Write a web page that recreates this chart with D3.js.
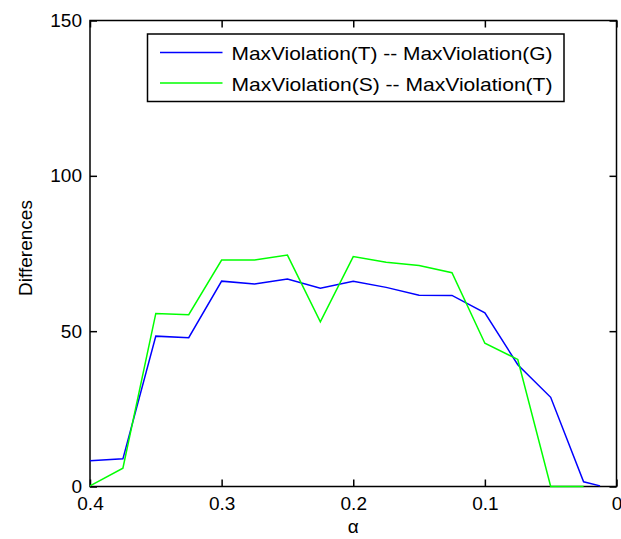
<!DOCTYPE html>
<meta charset="utf-8">
<script src="https://d3js.org/d3.v7.min.js"></script>
<style>
  body { margin: 0; background: #fff; }
  text { font-family: Arial, 'Liberation Sans', sans-serif; fill: #000; }
  .axis path, .axis line { stroke: #000; stroke-width: 1.5; }
  .axis text { font-size: 19px; }
</style>
<div id="chart"></div>
<script>
// alpha values along the x axis (axis runs from 0.4 down to 0)
var alphas = [0.4, 0.375, 0.35, 0.325, 0.3, 0.275, 0.25, 0.225, 0.2, 0.175, 0.15, 0.125, 0.1, 0.075, 0.05, 0.025, 0.0125];
// MaxViolation(T) -- MaxViolation(G)
var diffTG = [8.3, 8.9, 48.4, 47.9, 66.1, 65.2, 66.8, 63.8, 66.1, 64.1, 61.6, 61.5, 55.9, 39.2, 28.7, 1.5, 0.2];
// MaxViolation(S) -- MaxViolation(T)
var diffST = [0.2, 5.9, 55.7, 55.3, 72.9, 72.9, 74.5, 53.0, 74.0, 72.2, 71.1, 68.8, 46.1, 40.9, 0, 0, null];
var seriesNames = ["MaxViolation(T) -- MaxViolation(G)", "MaxViolation(S) -- MaxViolation(T)"];
var seriesColors = ["#0000ff", "#00ff00"];
var xTicks = [0.4, 0.3, 0.2, 0.1, 0];
var yTicks = [0, 50, 100, 150];

var W = 621, H = 539;
var margin = {top: 20.5, right: 4.5, bottom: 52.5, left: 90};
var width = W - margin.left - margin.right,
    height = H - margin.top - margin.bottom;

var svg = d3.select("#chart").append("svg")
    .attr("width", W).attr("height", H)
  .append("g")
    .attr("transform", "translate(" + margin.left + "," + margin.top + ")");

var x = d3.scaleLinear().domain([0.4, 0]).range([0, width]);
var y = d3.scaleLinear().domain([0, 150]).range([height, 0]);

var fmt = function(d) { return d === 0 ? "0" : d3.format(".1f")(d); };

// axes with inward ticks on all four sides
svg.append("g").attr("class", "axis")
  .attr("transform", "translate(0," + height + ")")
  .call(d3.axisBottom(x).tickValues(xTicks).tickFormat(fmt).tickSizeInner(-7).tickSizeOuter(0).tickPadding(10));
svg.append("g").attr("class", "axis")
  .call(d3.axisTop(x).tickValues(xTicks).tickFormat("").tickSizeInner(-7).tickSizeOuter(0));
svg.append("g").attr("class", "axis")
  .call(d3.axisLeft(y).tickValues(yTicks).tickSizeInner(-7).tickSizeOuter(0).tickPadding(8));
svg.append("g").attr("class", "axis")
  .attr("transform", "translate(" + width + ",0)")
  .call(d3.axisRight(y).tickValues(yTicks).tickFormat("").tickSizeInner(-7).tickSizeOuter(0));

svg.selectAll(".axis .domain").remove();
svg.append("rect")
  .attr("width", width).attr("height", height)
  .attr("fill", "none").attr("stroke", "#000").attr("stroke-width", 1.5);

// lines
var series = [diffTG, diffST];
series.forEach(function(vals, i) {
  var line = d3.line()
    .defined(function(d) { return d != null; })
    .x(function(d, j) { return x(alphas[j]); })
    .y(function(d) { return y(d); });
  svg.append("path")
    .datum(vals)
    .attr("fill", "none")
    .attr("stroke", seriesColors[i])
    .attr("stroke-width", 1.5)
    .attr("d", line);
});

// axis labels
svg.append("text")
  .attr("transform", "translate(" + (31.5 - margin.left) + "," + (248 - margin.top) + ") rotate(-90)")
  .attr("text-anchor", "middle")
  .style("font-size", "19px")
  .text("Differences");
svg.append("text")
  .attr("x", width / 2).attr("y", 533 - margin.top)
  .attr("text-anchor", "middle")
  .style("font-size", "19px")
  .text("α");

// legend
var leg = svg.append("g").attr("transform", "translate(" + (147.5 - margin.left) + "," + (34 - margin.top) + ")");
leg.append("rect")
  .attr("width", 416.5).attr("height", 67.5)
  .attr("fill", "#fff").attr("stroke", "#000").attr("stroke-width", 1.5);
seriesNames.forEach(function(name, i) {
  var ly = 18.5 + i * 30.5;
  leg.append("line")
    .attr("x1", 12.5).attr("x2", 75)
    .attr("y1", ly).attr("y2", ly)
    .attr("stroke", seriesColors[i]).attr("stroke-width", 1.5);
  leg.append("text")
    .attr("x", 84).attr("y", ly + 7.5)
    .style("font-size", "19px")
    .attr("textLength", 321)
    .attr("lengthAdjust", "spacingAndGlyphs")
    .text(name);
});
</script>
